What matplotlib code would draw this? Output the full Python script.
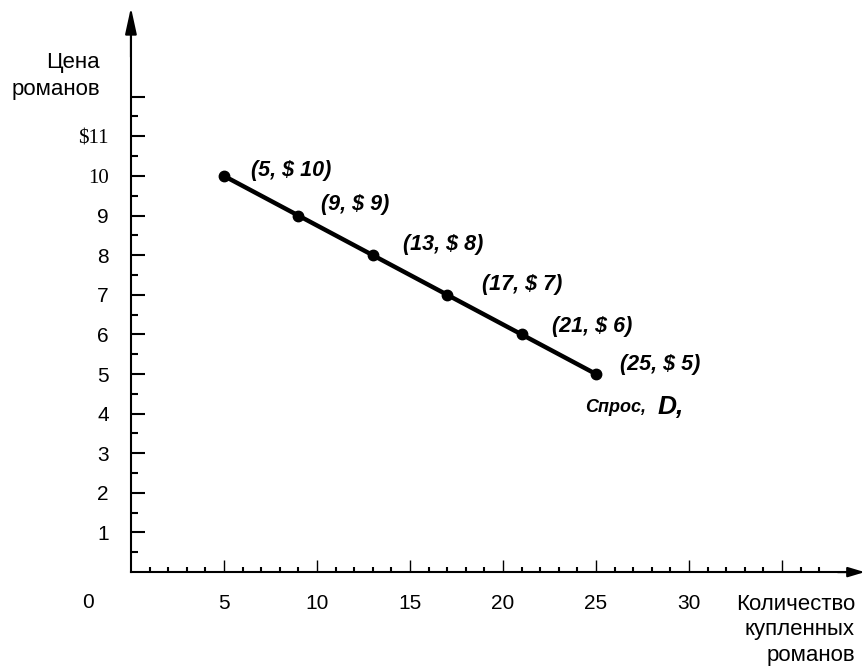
import matplotlib.pyplot as plt
import numpy as np


# demand schedule for novels
quantity   = [5, 9, 13, 17, 21, 25]
price      = [10, 9, 8, 7, 6, 5]
pt_labels  = ["(5, \\$ 10)", "(9, \\$ 9)", "(13, \\$ 8)", "(17, \\$ 7)", "(21, \\$ 6)", "(25, \\$ 5)"]
# label offsets from each point, in pixels (right, up)
pt_offsets = [(27, 5), (23, 11), (30, 11), (35, 10), (30, 8), (24, 10)]

x_ticks       = [5, 10, 15, 20, 25, 30, 35]
x_tick_labels = ["5", "10", "15", "20", "25", "30", ""]
y_ticks       = list(range(1, 13))
y_tick_labels = ["1", "2", "3", "4", "5", "6", "7", "8", "9", "10", "\\$11", ""]
serif_labels  = ["10", "\\$11"]

y_title = "Цена\nроманов"
x_title = "Количество\nкупленных\nроманов"
curve_name = "Спрос,"
curve_sym  = "D,"

SANS  = "Liberation Sans"
SERIF = "Liberation Serif"

W, H = 866, 668


def px(x, y):
    # pixel (from top-left) -> figure fraction
    return x / W, 1 - y / H


def main():
    fig = plt.figure(figsize=(W / 100, H / 100), dpi=100)
    ax  = fig.add_axes([0, 0, 1, 1])
    ax.set_xlim(-7.04, 39.52)
    ax.set_ylim(-2.42, 14.44)

    for side in ("top", "right"):
        ax.spines[side].set_visible(False)
    for side in ("left", "bottom"):
        ax.spines[side].set_position(("data", 0))
        ax.spines[side].set_linewidth(1.5)
    ax.spines["left"].set_bounds(0, 13.6)
    ax.spines["bottom"].set_bounds(0, 38.8)

    # arrow heads on both axes
    ax.annotate("", xy=(0, 14.25), xytext=(0, 13.0),
                arrowprops=dict(arrowstyle="-|>,head_length=1.6,head_width=0.35",
                                color="black", lw=1.5, shrinkA=0, shrinkB=0))
    ax.annotate("", xy=(39.45, 0), xytext=(38.0, 0),
                arrowprops=dict(arrowstyle="-|>,head_length=1.0,head_width=0.3",
                                color="black", lw=1.5, shrinkA=0, shrinkB=0))

    ax.set_xticks(x_ticks)
    ax.set_xticklabels(x_tick_labels, fontsize=15, family=SANS)
    ax.set_xticks(np.arange(1, 38), minor=True)
    ax.set_yticks(y_ticks)
    ax.set_yticklabels(y_tick_labels, fontsize=15, family=SANS)
    ax.set_yticks(np.arange(0.5, 12, 1.0), minor=True)
    for lab in ax.get_yticklabels():
        if lab.get_text() in serif_labels:
            lab.set_family(SERIF)

    ax.tick_params(axis="x", which="major", direction="in", length=8.5, width=1.0, pad=16)
    ax.tick_params(axis="x", which="minor", direction="in", length=3.6, width=1.5)
    ax.tick_params(axis="y", which="major", direction="in", length=10, width=1.5, pad=16)
    ax.tick_params(axis="y", which="minor", direction="in", length=5, width=1.5)

    ax.plot(quantity, price, color="black", lw=3.2, marker="o", ms=7.5, zorder=3)

    for q, p, lab, (dx, dy) in zip(quantity, price, pt_labels, pt_offsets):
        ax.annotate(lab, xy=(q, p), xytext=(dx, dy), textcoords="offset pixels",
                    ha="left", va="center", fontsize=15.5, style="italic",
                    weight="bold", family=SANS)

    ax.annotate(curve_name, xy=(quantity[-1], price[-1]), xytext=(-11, -33),
                textcoords="offset pixels", ha="left", va="center",
                fontsize=13, style="italic", weight="bold", family=SANS)
    ax.annotate(curve_sym, xy=(quantity[-1], price[-1]), xytext=(62, -33),
                textcoords="offset pixels", ha="left", va="center",
                fontsize=19, style="italic", weight="bold", family=SANS)

    fig.text(*px(100, 76), y_title, ha="right", va="center", ma="right",
             fontsize=16, family=SANS, linespacing=1.35)
    fig.text(*px(855, 630), x_title, ha="right", va="center", ma="right",
             fontsize=16, family=SANS, linespacing=1.3)
    fig.text(*px(88, 603), "0", ha="center", va="center", fontsize=15, family=SANS)

    fig.savefig("out.png", dpi=100, facecolor="white")
    plt.close(fig)


if __name__ == "__main__":
    main()
